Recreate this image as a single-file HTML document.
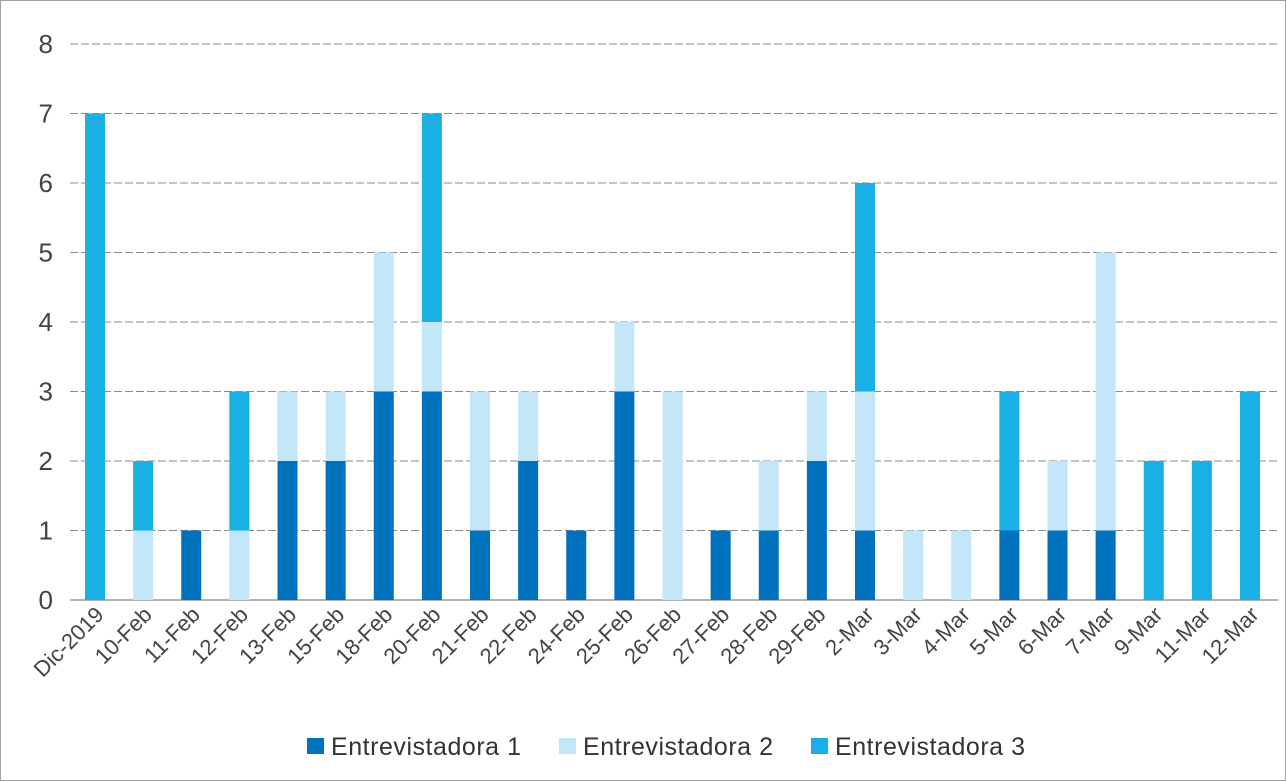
<!DOCTYPE html>
<html><head><meta charset="utf-8"><style>
html,body{margin:0;padding:0;background:#fff}
svg{display:block;font-family:"Liberation Sans",sans-serif}
</style></head><body>
<svg width="1286" height="781" viewBox="0 0 1286 781" xmlns="http://www.w3.org/2000/svg">
<rect x="0.5" y="0.5" width="1285" height="780" fill="#fff" stroke="#a0a0a0"/>
<g id="grid" stroke="#8a8a8a" stroke-width="1" stroke-dasharray="8,3"></g>
<line x1="70" y1="600" x2="1278" y2="600" stroke="#9a9a9a" stroke-width="1.5"/>
<g id="ylab" font-size="26" fill="#444" text-anchor="end"></g>
<g id="bars"></g>
<g id="xlab" font-size="22" fill="#444" text-anchor="end"></g>
<g font-size="25" fill="#333">
<rect x="307" y="738" width="17" height="16" fill="#0071bc"/><text x="331" y="755" textLength="190">Entrevistadora 1</text>
<rect x="559" y="738" width="17" height="16" fill="#c3e6f8"/><text x="583" y="755" textLength="190">Entrevistadora 2</text>
<rect x="811" y="738" width="17" height="16" fill="#1ab0e6"/><text x="835" y="755" textLength="190">Entrevistadora 3</text>
</g>
<script>
const ns="http://www.w3.org/2000/svg";
function el(t,a,p,txt){const e=document.createElementNS(ns,t);for(const k in a)e.setAttribute(k,a[k]);if(txt!==undefined)e.textContent=txt;document.getElementById(p).appendChild(e);}
const y0=600,u=69.5;
for(let i=0;i<=8;i++){const y=y0-i*u; if(i>0)el('line',{x1:70,x2:1278,y1:y,y2:y},'grid'); el('text',{x:53,y:y+9},'ylab',String(i));}
const d=[["Dic-2019",0,0,7],["10-Feb",0,1,1],["11-Feb",1,0,0],["12-Feb",0,1,2],["13-Feb",2,1,0],["15-Feb",2,1,0],["18-Feb",3,2,0],["20-Feb",3,1,3],["21-Feb",1,2,0],["22-Feb",2,1,0],["24-Feb",1,0,0],["25-Feb",3,1,0],["26-Feb",0,3,0],["27-Feb",1,0,0],["28-Feb",1,1,0],["29-Feb",2,1,0],["2-Mar",1,2,3],["3-Mar",0,1,0],["4-Mar",0,1,0],["5-Mar",1,0,2],["6-Mar",1,1,0],["7-Mar",1,4,0],["9-Mar",0,0,2],["11-Mar",0,0,2],["12-Mar",0,0,3]];
const cols=["#0071bc","#c3e6f8","#1ab0e6"];
const slot=48.125;
d.forEach((r,i)=>{const cx=95+slot*i;let b=0;
 for(let s=0;s<3;s++){const v=r[s+1];if(v>0){el('rect',{x:cx-10,y:y0-(b+v)*u,width:20,height:v*u,fill:cols[s]},'bars');b+=v;}}
 el('text',{x:cx+10,y:616,transform:`rotate(-45 ${cx+10} 616)`},'xlab',r[0]);
});
</script>
</svg>
</body></html>
